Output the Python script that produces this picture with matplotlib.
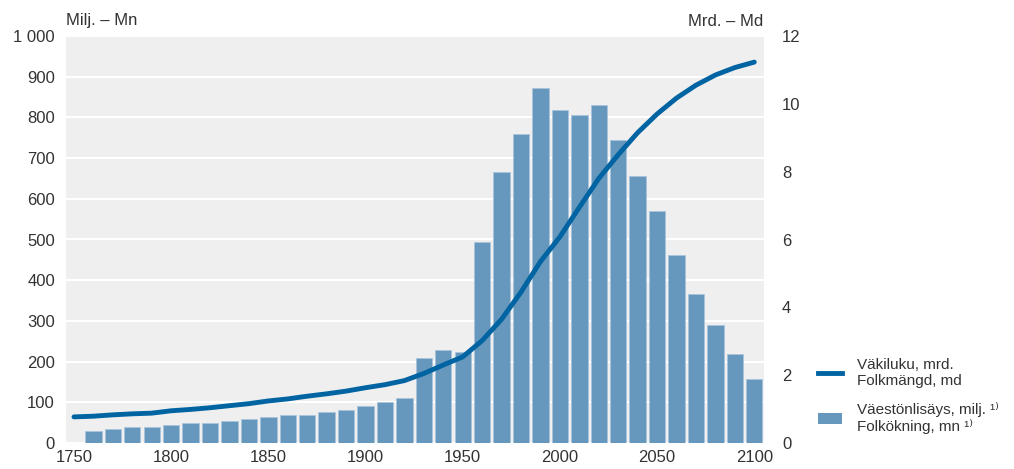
import matplotlib
matplotlib.use("Agg")
from matplotlib import pyplot as plt
from matplotlib.lines import Line2D
from matplotlib.patches import Patch

plt.rcParams['font.family'] = ['Liberation Sans', 'DejaVu Sans']

# lisäys (milj.) kymmenen vuoden välein
bar_years = list(range(1760, 2101, 10))
bar_vals = [30, 35, 40, 40, 45, 50, 50, 55, 60, 65, 70, 70, 75, 80, 90, 100, 110,
            208, 229, 223, 493, 667, 760, 873, 818, 805, 830, 745, 657, 569,
            461, 365, 289, 219, 158]

# väkiluku (mrd.)
line_years = list(range(1750, 2101, 10))
line_vals = [0.77, 0.79, 0.83, 0.86, 0.88, 0.95, 0.99, 1.04, 1.1, 1.16, 1.24, 1.3,
             1.38, 1.45, 1.53, 1.63, 1.72, 1.84, 2.05, 2.3, 2.54, 3.02, 3.65, 4.45,
             5.35, 6.08, 6.95, 7.8, 8.5, 9.15, 9.7, 10.17, 10.55, 10.85, 11.07, 11.23]

bar_color = '#6697bd'
line_color = '#0064a2'
txt = '#333333'
fs = 12

fig = plt.figure(figsize=(10.14, 4.69), dpi=100)
ax = fig.add_axes([66/1014, 26/469, 698/1014, 407/469])
ax.set_facecolor('#efefef')
ax.bar(bar_years, bar_vals, width=8.4, color=bar_color, edgecolor='#a9c5dc', linewidth=0.6, zorder=2)
ax.set_xlim(1745.9, 2105)
ax.set_ylim(0, 1000)
ax.set_yticks(range(0, 1001, 100))
ax.set_yticklabels(['0', '100', '200', '300', '400', '500', '600', '700', '800', '900', '1 000'])
ax.set_xticks(range(1750, 2101, 50))
ax.yaxis.grid(True, color='white', linewidth=1.5, zorder=1)
ax.set_axisbelow(True)
for s in ax.spines.values():
    s.set_visible(False)
ax.tick_params(axis='y', length=0, pad=8, labelsize=fs, colors=txt)
ax.tick_params(axis='x', length=0, pad=5, labelsize=fs, colors=txt)

ax2 = ax.twinx()
ax2.plot(line_years, line_vals, color=line_color, linewidth=3.5, solid_capstyle='round', zorder=3)
ax2.set_ylim(0, 12)
ax2.set_yticks(range(0, 13, 2))
for s in ax2.spines.values():
    s.set_visible(False)
ax2.tick_params(axis='y', length=0, pad=13, labelsize=fs, colors=txt)

fig.text(66/1014, 1 - 21/469, 'Milj. – Mn', fontsize=fs, color=txt, va='center', ha='left')
fig.text(763/1014, 1 - 21/469, 'Mrd. – Md', fontsize=fs, color=txt, va='center', ha='right')

handles = [Line2D([0], [0], color=line_color, linewidth=3.5),
           Patch(facecolor=bar_color, edgecolor='none')]
labels = ['Väkiluku, mrd.\nFolkmängd, md',
          'Väestönlisäys, milj. ¹⁾\nFolkökning, mn ¹⁾']
fig.legend(handles, labels, loc='upper left', bbox_to_anchor=(812/1014, 1 - 352/469),
           frameon=False, fontsize=11, labelcolor=txt, handlelength=1.57,
           handletextpad=0.98, labelspacing=0.9, borderaxespad=0)

fig.savefig('out.png', dpi=100)
